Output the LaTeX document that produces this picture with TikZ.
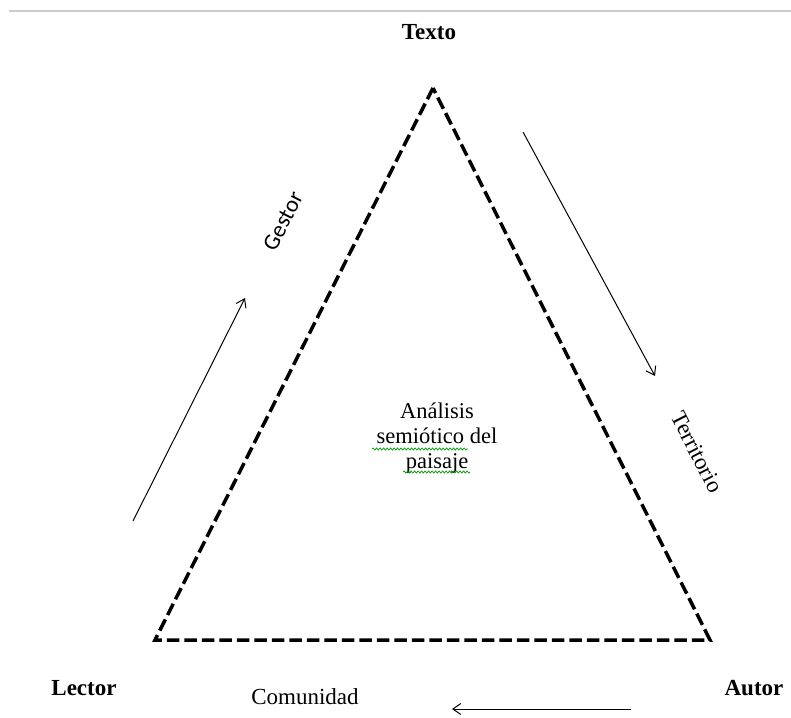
\documentclass[tikz,border=0pt]{standalone}
\usepackage{fontspec}
\setmainfont{Liberation Serif}
\newfontfamily\calib{Carlito}
\usetikzlibrary{arrows.meta,decorations.pathmorphing}
\begin{document}
\begin{tikzpicture}[x=1pt,y=-1pt,
  vertex/.style={inner sep=0pt,font=\fontsize{23}{26}\selectfont\bfseries},
  side/.style={inner sep=0pt,font=\fontsize{23}{26}\selectfont},
  tri/.style={line width=3.5pt,dash pattern=on 12.5pt off 5pt,line join=miter},
  flow/.style={line width=1pt,-{Straight Barb[length=8pt,width=11pt]}},
  spell/.style={draw=green!60!black,line width=0.7pt,
    decorate,decoration={snake,amplitude=1.1pt,segment length=3.5pt}}]
  \useasboundingbox (0,0) rectangle (791,717);
  % header rule
  \coordinate (ruleL) at (9,11);
  \coordinate (ruleR) at (791,11);
  \draw[black!20,line width=1.6pt] (ruleL) -- (ruleR);

  % corner labels
  \node[vertex] (texto) at (429,32) {Texto};
  \node[vertex] (lector) at (84,688) {Lector};
  \node[vertex] (autor) at (754,688) {Autor};

  % dashed triangle
  \coordinate (apex) at (433,88);
  \coordinate (bl) at (155,640);
  \coordinate (br) at (710,640);
  \draw[tri] (apex) -- (bl) -- (br) -- cycle;

  % centre text
  \node[inner sep=0pt,align=center,font=\fontsize{22.5}{25}\selectfont] (centro) at (437,438)
    {Análisis\\semiótico del\\paisaje};
  \coordinate (u1a) at (372,449); \coordinate (u1b) at (468,449);
  \coordinate (u2a) at (403,472); \coordinate (u2b) at (470,472);
  \draw[spell] (u1a) -- (u1b);
  \draw[spell] (u2a) -- (u2b);

  % side labels
  \node[inner sep=0pt,rotate=63,font=\calib\fontsize{23}{26}\selectfont] (gestor) at (283,221) {Gestor};
  \node[side,rotate=-63] (territorio) at (697,452) {Territorio};
  \node[side] (comunidad) at (305,697) {Comunidad};

  % direction arrows
  \coordinate (g0) at (133,521); \coordinate (g1) at (245,298);
  \coordinate (t0) at (523,132); \coordinate (t1) at (655,376);
  \coordinate (c0) at (631,709); \coordinate (c1) at (452,709);
  \draw[flow] (g0) -- (g1);
  \draw[flow] (t0) -- (t1);
  \draw[flow] (c0) -- (c1);
\end{tikzpicture}
\end{document}
